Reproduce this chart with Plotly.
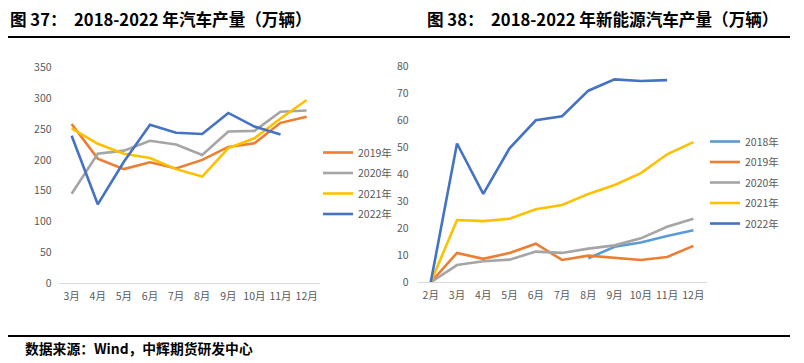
import plotly.graph_objects as go

# ---- data: left chart (汽车产量, 万辆) ----
months_left = ["3月", "4月", "5月", "6月", "7月", "8月", "9月", "10月", "11月", "12月"]
prod_2019 = [258, 202, 185, 196, 186, 200, 221, 227, 260, 270]
prod_2020 = [145, 210, 215, 231, 225, 208, 246, 247, 278, 280]
prod_2021 = [251, 226, 210, 203, 185, 173, 219, 235, 267, 297]
prod_2022 = [239, 128, 197, 257, 244, 242, 276, 254, 241, None]

# ---- data: right chart (新能源汽车产量, 万辆) ----
months_right = ["2月", "3月", "4月", "5月", "6月", "7月", "8月", "9月", "10月", "11月", "12月"]
nev_2018 = [None, None, None, None, None, None, 8.9, 13.2, 14.8, 17.2, 19.3]
nev_2019 = [0, 10.9, 8.7, 10.9, 14.3, 8.3, 9.9, 9.1, 8.3, 9.4, 13.5]
nev_2020 = [0, 6.4, 7.8, 8.4, 11.4, 10.9, 12.5, 13.7, 16.3, 20.6, 23.6]
nev_2021 = [0, 23.1, 22.7, 23.6, 27.1, 28.7, 32.8, 36.1, 40.5, 47.5, 52.0]
nev_2022 = [0, 51.5, 32.8, 49.7, 60.1, 61.6, 71.1, 75.3, 74.7, 75.0, None]

left_ticks = [0, 50, 100, 150, 200, 250, 300, 350]
right_ticks = [0, 10, 20, 30, 40, 50, 60, 70, 80]

C_ORANGE = "#ED7D31"
C_GRAY = "#A5A5A5"
C_YELLOW = "#FFC000"
C_BLUE = "#4472C4"
C_LBLUE = "#5B9BD5"

# the page body has an 8px margin, so the figure is drawn 8px in from the corner
OFF = 8
PAGE_W, PAGE_H = 804, 363
W, H = PAGE_W - OFF, PAGE_H - OFF
FONT = "Noto Sans CJK SC"
LW = 2.6

fig = go.Figure()

left_series = [("2019年", prod_2019, C_ORANGE), ("2020年", prod_2020, C_GRAY),
               ("2021年", prod_2021, C_YELLOW), ("2022年", prod_2022, C_BLUE)]
for name, vals, col in left_series:
    fig.add_trace(go.Scatter(x=months_left, y=vals, name=name, mode="lines",
                             line=dict(color=col, width=LW), xaxis="x", yaxis="y",
                             legend="legend", legendgroup="L" + name))

right_series = [("2018年", nev_2018, C_LBLUE), ("2019年", nev_2019, C_ORANGE),
                ("2020年", nev_2020, C_GRAY), ("2021年", nev_2021, C_YELLOW),
                ("2022年", nev_2022, C_BLUE)]
for name, vals, col in right_series:
    fig.add_trace(go.Scatter(x=months_right, y=vals, name=name, mode="lines",
                             line=dict(color=col, width=LW), xaxis="x2", yaxis="y2",
                             legend="legend2", legendgroup="R" + name))

def px_x(p):
    return (p - OFF) / W

def px_y(p):
    return (PAGE_H - p) / H

tickfont = dict(family=FONT, size=10.5, color="#595959")

fig.update_layout(
    width=W, height=H,
    margin=dict(l=0, r=0, t=0, b=0, autoexpand=False),
    paper_bgcolor="white", plot_bgcolor="white",
    showlegend=True,
    xaxis=dict(domain=[px_x(58.6), px_x(319.7)], type="category", range=[-0.5, 9.5],
               showgrid=False, showline=True, linecolor="#D9D9D9", linewidth=1,
               ticks="", tickfont=tickfont, ticklabelstandoff=3, anchor="y",
               zeroline=False, automargin=False),
    yaxis=dict(domain=[px_y(283.3), px_y(67.3)], range=[0, 350], tickvals=left_ticks,
               showgrid=False, showline=False, zeroline=False, ticks="",
               tickfont=tickfont, ticklabelstandoff=6, anchor="x", automargin=False),
    xaxis2=dict(domain=[px_x(417.6), px_x(706.5)], type="category", range=[-0.5, 10.5],
                showgrid=False, showline=True, linecolor="#D9D9D9", linewidth=1,
                ticks="", tickfont=tickfont, ticklabelstandoff=3, anchor="y2",
                zeroline=False, automargin=False),
    yaxis2=dict(domain=[px_y(282.3), px_y(66.7)], range=[0, 80], tickvals=right_ticks,
                showgrid=False, showline=False, zeroline=False, ticks="",
                tickfont=tickfont, ticklabelstandoff=8, anchor="x2", automargin=False),
    legend=dict(x=px_x(318), y=px_y(138), xanchor="left", yanchor="top",
                font=dict(family=FONT, size=10.5, color="#595959"),
                tracegroupgap=1.5, bgcolor="rgba(0,0,0,0)"),
    legend2=dict(x=px_x(705), y=px_y(127), xanchor="left", yanchor="top",
                 font=dict(family=FONT, size=10.5, color="#595959"),
                 tracegroupgap=1.5, bgcolor="rgba(0,0,0,0)"),
)

titlefont = dict(family=FONT, size=16.6, color="black")
fig.add_annotation(text="<b>图 37：  2018-2022 年汽车产量（万辆）</b>", xref="paper", yref="paper",
                   x=px_x(8), y=px_y(19.5), xanchor="left", yanchor="middle",
                   showarrow=False, font=titlefont)
fig.add_annotation(text="<b>图 38：  2018-2022 年新能源汽车产量（万辆）</b>", xref="paper", yref="paper",
                   x=px_x(425), y=px_y(19.5), xanchor="left", yanchor="middle",
                   showarrow=False, font=titlefont)
fig.add_annotation(text="<b>数据来源：Wind，中辉期货研发中心</b>", xref="paper", yref="paper",
                   x=px_x(23), y=px_y(348), xanchor="left", yanchor="middle",
                   showarrow=False, font=dict(family=FONT, size=13.8, color="black"))

fig.add_shape(type="line", xref="paper", yref="paper", x0=px_x(8), x1=px_x(790),
              y0=px_y(37), y1=px_y(37), line=dict(color="black", width=2))
fig.add_shape(type="line", xref="paper", yref="paper", x0=px_x(8), x1=px_x(790),
              y0=px_y(336), y1=px_y(336), line=dict(color="black", width=2))

fig.write_html("out.html")
